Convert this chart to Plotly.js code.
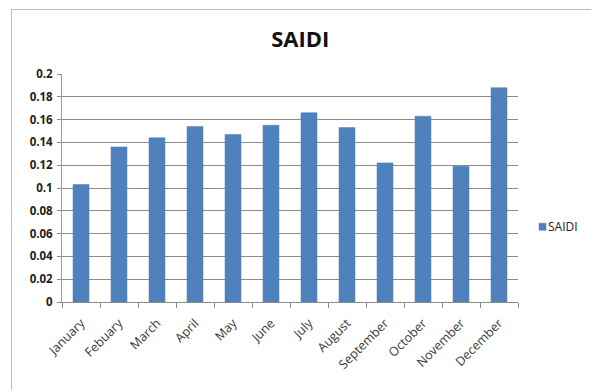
<!DOCTYPE html>
<html>
<head>
<meta charset="utf-8">
<script src="https://cdn.plot.ly/plotly-3.0.1.min.js"></script>
<style>
  html, body { margin: 0; padding: 0; background: #fff; overflow: hidden; }
  #wrap { position: relative; width: 591px; height: 390px; }
  #chart { position: absolute; left: 0; top: 0; width: 591px; height: 390px; }
  #frame { position: absolute; left: 11px; top: 9px; width: 640px; height: 440px;
           border-left: 1px solid #bdbdbd; border-top: 1px solid #bdbdbd; pointer-events: none; }
</style>
</head>
<body>
<div id="wrap">
  <div id="chart"></div>
  <div id="frame"></div>
</div>
<script>
// Monthly SAIDI values
const months = ["January", "Febuary", "March", "April", "May", "June",
                "July", "August", "September", "October", "November", "December"];
const saidi = [0.103, 0.136, 0.144, 0.154, 0.147, 0.155,
               0.166, 0.153, 0.122, 0.163, 0.119, 0.188];
const yTickVals = [0, 0.02, 0.04, 0.06, 0.08, 0.1, 0.12, 0.14, 0.16, 0.18, 0.2];
const yTickText = ["0", "0.02", "0.04", "0.06", "0.08", "0.1", "0.12", "0.14", "0.16", "0.18", "0.2"];

const trace = {
  type: "bar",
  name: "SAIDI",
  x: months,
  y: saidi,
  marker: { color: "#4f81bd", line: { color: "#4a7ab4", width: 0.5 } },
  hoverinfo: "x+y"
};

const layout = {
  width: 591,
  height: 390,
  margin: { l: 62, r: 73, t: 74, b: 88, autoexpand: false },
  paper_bgcolor: "rgba(0,0,0,0)",
  plot_bgcolor: "#fff",
  bargap: 0.58,
  title: {
    text: "<b>SAIDI</b>",
    font: { family: "Open Sans, sans-serif", size: 22, color: "#111" },
    x: 0.508, xanchor: "center",
    y: 0.9, yanchor: "middle", yref: "container"
  },
  xaxis: {
    type: "category",
    tickangle: -45,
    ticks: "outside",
    tickson: "boundaries",
    ticklen: 5,
    tickcolor: "#8c8c8c",
    showline: true,
    linecolor: "#8c8c8c",
    linewidth: 1,
    showgrid: false,
    ticklabelstandoff: 8,
    tickfont: { family: "Open Sans, sans-serif", size: 12.5, color: "#3a3a3a" }
  },
  yaxis: {
    range: [0, 0.2],
    tickvals: yTickVals,
    ticktext: yTickText,
    ticks: "outside",
    ticklen: 4,
    tickcolor: "#8c8c8c",
    showline: true,
    linecolor: "#9a9a9a",
    linewidth: 1,
    showgrid: true,
    gridcolor: "#8c8c8c",
    gridwidth: 1,
    zeroline: false,
    ticklabelstandoff: 2,
    tickfont: { family: "Open Sans, sans-serif", size: 11.5, color: "#222", weight: "bold" }
  },
  showlegend: true,
  legend: {
    x: 1.0, xanchor: "left",
    y: 0.33, yanchor: "middle",
    bgcolor: "rgba(0,0,0,0)",
    font: { family: "Open Sans, sans-serif", size: 12, color: "#222" },
    itemwidth: 30
  }
};

Plotly.newPlot("chart", [trace], layout, { displayModeBar: false, staticPlot: true }).then(function (gd) {
  // Compact legend entry: small square key with the label right beside it
  const host = gd.getBoundingClientRect();
  const item = gd.querySelector(".legend .traces");
  const path = item && item.querySelector(".legendpoints path");
  const text = item && item.querySelector("text.legendtext");
  if (!path || !text) return;
  path.setAttribute("d", "M3.5,3.5H-3.5V-3.5H3.5Z");
  const keyCenterX = 542.5;
  const textLeftX = 548;
  const pb = path.getBoundingClientRect();
  const dxKey = keyCenterX - (pb.left + pb.width / 2 - host.left);
  const pg = path.parentNode;
  const prevT = pg.getAttribute("transform") || "";
  pg.setAttribute("transform", prevT + " translate(" + dxKey + ",0)");
  const tb = text.getBoundingClientRect();
  const dxText = textLeftX - (tb.left - host.left);
  text.setAttribute("x", parseFloat(text.getAttribute("x") || "0") + dxText);
});
</script>
</body>
</html>
